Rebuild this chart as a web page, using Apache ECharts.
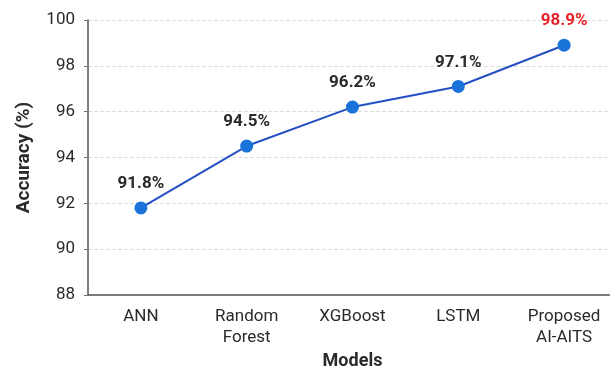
<!DOCTYPE html>
<html><head><meta charset="utf-8">
<script src="https://cdn.jsdelivr.net/npm/echarts@6/dist/echarts.min.js"></script>
<style>html,body{margin:0;padding:0;background:#fff}#c{width:610px;height:370px}</style>
</head><body><div id="c"></div>
<script>
const categories = ['ANN', 'Random\nForest', 'XGBoost', 'LSTM', 'Proposed\nAI-AITS'];
const accuracy = [91.8, 94.5, 96.2, 97.1, 98.9];
const yTicks = [88, 90, 92, 94, 96, 98, 100];

const chart = echarts.init(document.getElementById('c'));
const font = 'Roboto, "DejaVu Sans", sans-serif';
chart.setOption({
  animation: false,
  grid: { left: 88, width: 529, top: 20, height: 275, containLabel: false, outerBoundsMode: 'none' },
  xAxis: {
    type: 'category', data: categories, boundaryGap: true,
    name: 'Models', nameLocation: 'middle', nameGap: 57,
    nameTextStyle: { fontWeight: 'bold', fontSize: 18, color: '#2a2a2a', fontFamily: font },
    axisLine: { lineStyle: { color: '#555', width: 1.5 } },
    axisTick: { alignWithLabel: true, length: 4, lineStyle: { color: '#777' } },
    axisLabel: { color: '#2a2a2a', fontSize: 17, lineHeight: 21, margin: 11, fontFamily: font, interval: 0 },
    splitLine: { show: false }
  },
  yAxis: {
    type: 'value', min: yTicks[0], max: yTicks[yTicks.length - 1], interval: 2,
    name: 'Accuracy (%)', nameLocation: 'middle', nameGap: 54, nameRotate: 90,
    nameTextStyle: { fontWeight: 'bold', fontSize: 19, color: '#2a2a2a', fontFamily: font },
    axisLine: { show: true, lineStyle: { color: '#555', width: 1.5 } },
    axisTick: { show: true, length: 4, lineStyle: { color: '#777' } },
    axisLabel: { color: '#2a2a2a', fontSize: 17, margin: 13, fontFamily: font },
    splitLine: { show: true, lineStyle: { color: '#dcdcdc', type: 'dashed', width: 1 } }
  },
  series: [{
    type: 'line', data: accuracy.map((v, i) => ({
      value: v,
      label: i === accuracy.length - 1 ? { color: '#e8252a' } : undefined
    })),
    symbol: 'circle', symbolSize: 13,
    itemStyle: { color: '#1a73d9' },
    lineStyle: { color: '#2450c4', width: 2 },
    label: {
      show: true, position: 'top', distance: 9,
      formatter: p => p.value.toFixed(1) + '%',
      fontWeight: 'bold', fontSize: 17, color: '#2a2a2a', fontFamily: font
    }
  }]
});
</script></body></html>
